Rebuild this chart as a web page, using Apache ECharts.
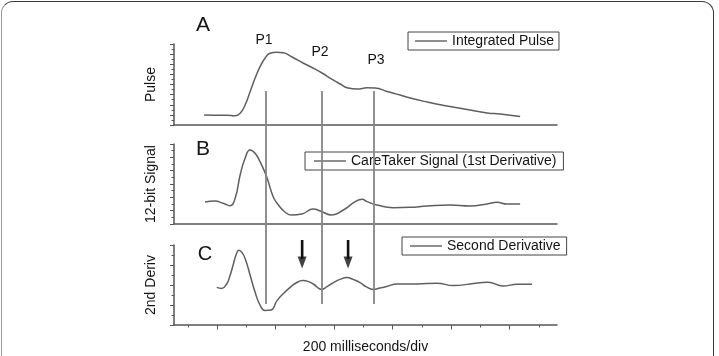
<!DOCTYPE html>
<html>
<head>
<meta charset="utf-8">
<title>Pulse</title>
<script src="https://cdn.jsdelivr.net/npm/echarts@6.0.0/dist/echarts.min.js"></script>
<style>
    html, body {
        margin: 0;
        padding: 0;
        background: #fff;
        overflow: hidden;
    }
    .frame {
        position: absolute;
        left: 1px;
        top: 1px;
        width: 711px;
        height: 400px;
        border: 1.5px solid #3a3a3a;
        border-left-color: #9a9a9a;
        border-radius: 12px;
    }
    #main {
        position: absolute;
        left: 0;
        top: 0;
        width: 719px;
        height: 356px;
    }
</style>
</head>
<body>
<div class="frame"></div>
<div id="main"></div>
<script>
// 时间轴 (ms, 0 = 第一个主刻度)
const majorTicks = [0, 200, 400, 600, 800, 1000];
const minorTicks = [-100, 100, 300, 500, 700, 900, 1100];

// A: Integrated Pulse
const pulseT = [-44, -7, 34, 62, 79, 96, 113, 130, 147, 164, 181, 205, 226, 260, 294, 328, 359, 386, 421, 448, 479, 513, 540, 581, 626, 660, 718, 786, 855, 923, 968, 1036];
const pulseV = [1.98, 1.94, 1.92, 1.82, 2.31, 3.95, 6.58, 9.22, 11.52, 13.18, 14.16, 14.36, 14.26, 13.33, 12.25, 11.26, 10.27, 9.28, 8.10, 7.31, 7.11, 7.35, 7.31, 6.62, 5.93, 5.33, 4.54, 3.75, 3.06, 2.37, 2.17, 1.68];

// B: CareTaker Signal (1st Derivative)
const signalT = [-41, -7, 21, 44, 62, 79, 96, 113, 130, 147, 170, 192, 210, 232, 255, 290, 329, 358, 392, 432, 472, 496, 513, 547, 602, 660, 718, 797, 865, 923, 957, 991, 1036];
const signalV = [3.30, 3.45, 3.10, 2.75, 3.86, 7.35, 9.86, 11.10, 10.61, 9.35, 7.05, 4.10, 2.85, 1.80, 1.35, 1.50, 2.25, 1.85, 1.35, 2.10, 3.35, 3.70, 3.35, 2.85, 2.45, 2.50, 2.70, 2.85, 2.70, 3.00, 3.25, 3.00, 3.00];

// C: Second Derivative
const derivT = [-1, 16, 33, 44, 56, 65, 75, 85, 96, 113, 130, 147, 164, 185, 205, 229, 250, 270, 293, 311, 329, 358, 376, 398, 420, 444, 465, 489, 509, 534, 557, 580, 615, 683, 751, 808, 865, 926, 978, 1026, 1077];
const derivV = [-0.12, -0.17, 0.05, 0.45, 1.05, 1.50, 1.74, 1.63, 1.33, 0.50, -0.35, -1.00, -1.27, -1.25, -0.78, -0.40, -0.12, 0.10, 0.22, 0.18, 0.05, -0.22, -0.08, 0.12, 0.28, 0.37, 0.28, 0.12, -0.08, -0.22, -0.15, -0.08, 0.05, 0.05, 0.09, -0.03, 0.05, 0.14, -0.05, 0.04, 0.04];

// P1 / P2 / P3 竖线
const peakNames = ["P1", "P2", "P3"];
const peakT = [167, 359, 537];

// C 图里的箭头
const arrowT = [291, 448];
const arrowTop = 2.25;
const arrowShaftEnd = 1.3;
const arrowHead = 1.12;

const xMin = -147;
const xMax = 1162;
const font = "Liberation Sans";
const axisColor = "#555";
const lineColor = "#5f5f5f";
const textColor = "#141414";

const zip = (t, v) => t.map((x, i) => [x, v[i]]);

let myChart = echarts.init(document.getElementById("main"));

function plainX(gridIndex, extra) {
    return Object.assign({
        type: "value",
        gridIndex: gridIndex,
        min: xMin,
        max: xMax,
        position: "bottom",
        axisLine: { show: true, onZero: false, lineStyle: { color: axisColor, width: 1.5 } },
        axisTick: { show: false },
        axisLabel: { show: false },
        splitLine: { show: false }
    }, extra || {});
}

function panelY(gridIndex, min, max, interval, name) {
    return {
        type: "value",
        gridIndex: gridIndex,
        min: min,
        max: max,
        interval: interval,
        name: name,
        nameLocation: "middle",
        nameGap: 16,
        nameTextStyle: { color: textColor, fontSize: 14, fontFamily: font },
        axisLine: { show: true, onZero: false, lineStyle: { color: axisColor, width: 1.5 } },
        axisTick: { show: true, length: 4, lineStyle: { color: axisColor, width: 1 } },
        minorTick: { show: true, splitNumber: 2, length: 2.5, lineStyle: { color: axisColor, width: 1 } },
        axisLabel: { show: false },
        splitLine: { show: false }
    };
}

function curve(name, idx, data) {
    return {
        name: name,
        type: "line",
        xAxisIndex: idx,
        yAxisIndex: idx,
        data: data,
        smooth: true,
        symbol: "none",
        lineStyle: { color: lineColor, width: 1.5 },
        itemStyle: { color: lineColor }
    };
}

function legendBox(name, left, top, padding) {
    return {
        data: [{ name: name, icon: "rect" }],
        left: left,
        top: top,
        padding: padding,
        itemWidth: 32,
        itemHeight: 1.2,
        selectedMode: false,
        borderColor: "#444",
        borderWidth: 1,
        itemStyle: { color: "#444" },
        textStyle: { color: textColor, fontSize: 14, fontFamily: font, lineHeight: 14 }
    };
}

function label(text, x, y, size) {
    return {
        type: "text",
        x: x,
        y: y,
        style: {
            text: text,
            fill: textColor,
            font: size + "px " + font,
            textAlign: "center",
            textVerticalAlign: "middle"
        }
    };
}

let seriesArr = [
    curve("Integrated Pulse", 0, zip(pulseT, pulseV)),
    curve("CareTaker Signal (1st Derivative)", 1, zip(signalT, signalV)),
    curve("Second Derivative", 2, zip(derivT, derivV)),
    {
        // 竖线
        name: "peaks",
        type: "line",
        xAxisIndex: 4,
        yAxisIndex: 3,
        data: [[0, 0]],
        symbol: "none",
        lineStyle: { opacity: 0 },
        silent: true,
        markLine: {
            silent: true,
            symbol: "none",
            label: { show: false },
            lineStyle: { color: "#858585", width: 1.8, type: "solid" },
            data: peakT.map((v) => ({ xAxis: v }))
        }
    }
];

arrowT.forEach((t, i) => {
    seriesArr.push({
        name: "arrow" + i,
        type: "line",
        xAxisIndex: 2,
        yAxisIndex: 2,
        data: [[t, arrowTop], [t, arrowShaftEnd]],
        symbol: "none",
        clip: false,
        silent: true,
        lineStyle: { color: "#111", width: 2.6 }
    });
});
seriesArr.push({
    name: "arrowHeads",
    type: "scatter",
    xAxisIndex: 2,
    yAxisIndex: 2,
    data: arrowT.map((t) => [t, arrowHead]),
    symbol: "triangle",
    symbolRotate: 180,
    symbolSize: [9, 12],
    clip: false,
    silent: true,
    itemStyle: { color: "#111" }
});

let option = {
    animation: false,
    textStyle: { fontFamily: font },
    grid: [
        { left: 174, top: 44, width: 383, height: 81 },
        { left: 174, top: 144, width: 383, height: 80 },
        { left: 174, top: 245, width: 383, height: 80 },
        { left: 174, top: 91, width: 383, height: 213 }
    ],
    legend: [
        legendBox("Integrated Pulse", 408, 32, [2, 5, 2, 7]),
        legendBox("CareTaker Signal (1st Derivative)", 305, 152, [2, 7, 2, 9]),
        legendBox("Second Derivative", 402, 237, [2, 6, 2, 8])
    ],
    xAxis: [
        plainX(0),
        plainX(1),
        plainX(2, {
            name: "200 milliseconds/div",
            nameLocation: "middle",
            nameGap: 15,
            nameTextStyle: { color: textColor, fontSize: 14, fontFamily: font },
            axisTick: { show: true, customValues: majorTicks, length: 4.5, lineStyle: { color: axisColor, width: 1 } }
        }),
        plainX(2, {
            axisLine: { show: false, onZero: false },
            axisTick: { show: true, customValues: minorTicks, length: 2.5, lineStyle: { color: axisColor, width: 1 } }
        }),
        plainX(3, { show: false })
    ],
    yAxis: [
        panelY(0, 0, 16, 2, "Pulse"),
        panelY(1, 0, 12, 2, "12-bit Signal"),
        panelY(2, -2, 2, 1, "2nd Deriv"),
        { type: "value", gridIndex: 3, min: 0, max: 1, show: false }
    ],
    graphic: [
        label("A", 203, 25.5, 21),
        label("B", 203, 149.5, 21),
        label("C", 205, 254, 20),
        label(peakNames[0], 264, 40.5, 14),
        label(peakNames[1], 320, 52.5, 14),
        label(peakNames[2], 376, 60, 14)
    ],
    series: seriesArr
};

myChart.setOption(option);
</script>
</body>
</html>
